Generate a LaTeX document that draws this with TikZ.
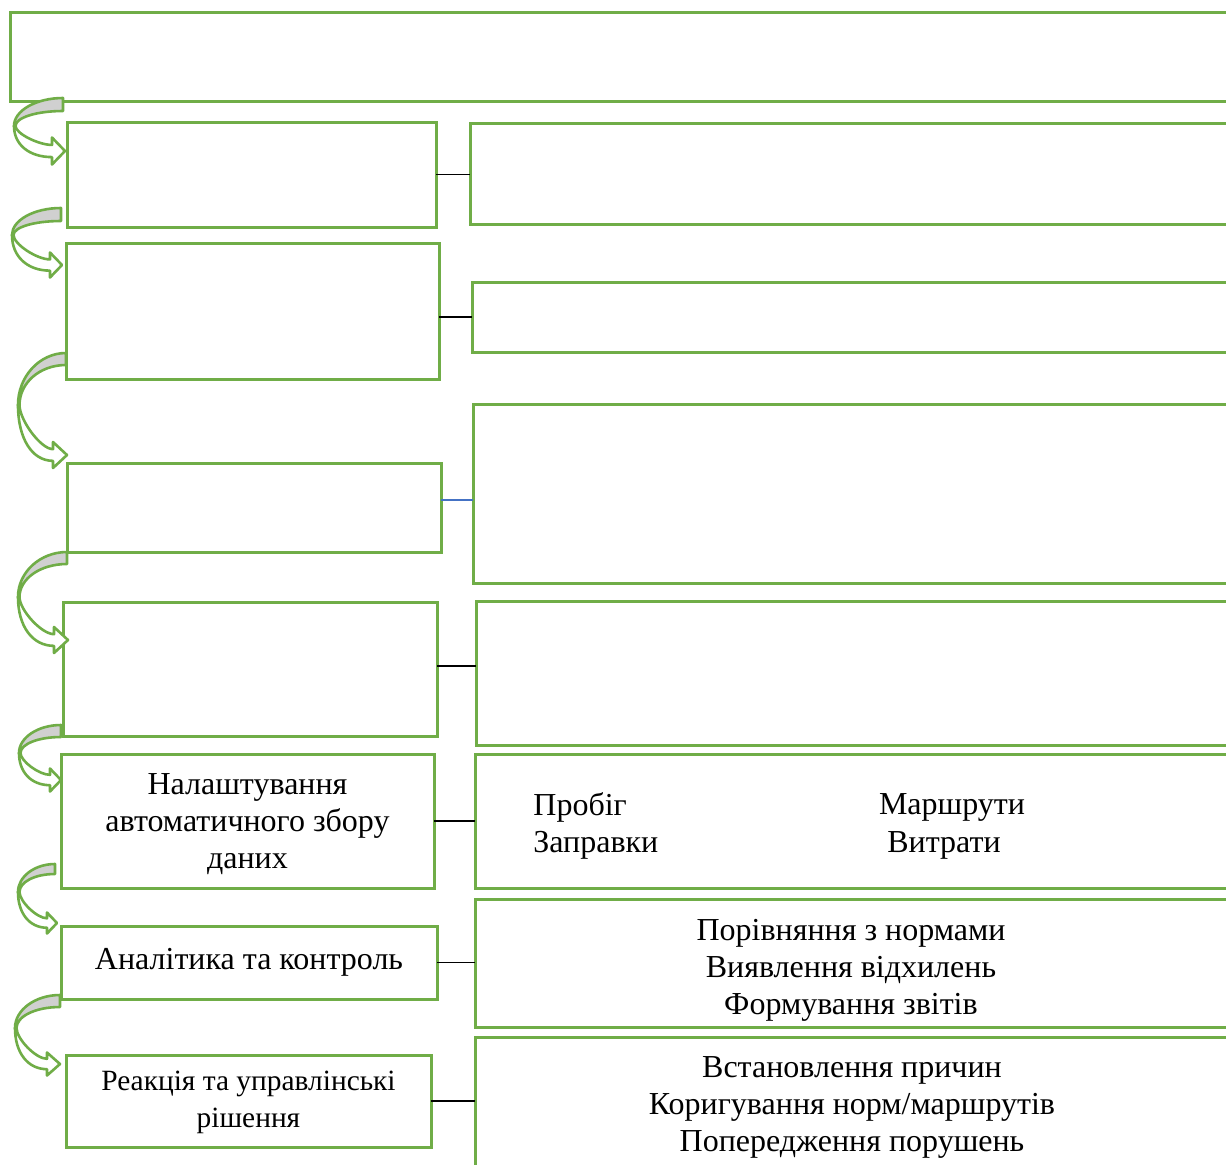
\documentclass[tikz,border=0pt]{standalone}
\usepackage{fontspec}
\setmainfont{Liberation Serif}
\definecolor{grn}{HTML}{70AD47}
\definecolor{cblue}{HTML}{4472C4}
\definecolor{gryfill}{HTML}{D0D0D0}
\tikzset{
 box/.style={draw=grn, line width=1.5pt, fill=white, inner sep=0pt, outer sep=0pt, anchor=north west, align=center, font=\fontsize{16}{18.5}\selectfont},
 txt/.style={inner sep=0pt, align=center, font=\fontsize{16}{18.5}\selectfont},
 conn/.style={draw=black, line width=0.6pt},
 arrowline/.style={draw=grn, line width=1.3pt, line join=round},
}
\newcommand\bx[6]{\node[box, minimum width={(#4-#2)*0.5pt}, minimum height={(#5-#3)*0.5pt}] (#1) at (#2,#3) {#6};}
\newcommand\carrow[9]{%
 \filldraw[arrowline, fill=gryfill] (#1,#2) .. controls ({#1-0.55*(#1-#4)},#2) and (#4,{#5-0.55*(#5-#2)}) .. (#4,#5) -- ({#4+1.5},#5) .. controls ({#4+1.5},{#5-0.55*(#5-#2-#3)}) and ({#1-0.55*(#1-#4)},{#2+#3}) .. (#1,{#2+#3}) -- cycle;
 \filldraw[arrowline, fill=white] (#4,#5) .. controls (#4,{#5+0.6*(#7+0.45*#9-#5)}) and ({#6-0.6*(#6-#4)},{#7+0.45*#9}) .. (#6,{#7+0.45*#9}) -- (#6,{#7+#9}) -- (#8,#7) -- (#6,{#7-#9}) -- (#6,{#7-0.45*#9}) .. controls ({#6-0.35*(#6-#4)},{#7-0.45*#9}) and ({#4+1.5},{#5+0.3*(#7-#5)}) .. ({#4+1.5},#5) -- cycle;
}
\begin{document}
\begin{tikzpicture}[x=0.5pt,y=-0.5pt]
\clip (0,0) rectangle (1226,1164);
\fill[white] (0,0) rectangle (1226,1164);
% top box
\bx{T}{10}{12}{1240}{101}{}
% left boxes
\bx{L1}{67}{122}{436}{227}{}
\bx{L2}{66}{243}{439}{379}{}
\bx{L3}{67}{463}{441}{552}{}
\bx{L4}{63}{602}{437}{736}{}
\bx{L5}{61}{754}{434}{888}{}
\bx{L6}{61}{926}{437}{999}{}
\bx{L7}{66}{1055}{431}{1147}{}
\node[txt] (t5) at ([yshift=-1.5pt]L5.center) {Налаштування\\автоматичного збору\\даних};
\node[txt] (t6) at ([yshift=0pt]L6.center) {Аналітика та контроль};
\node[txt, font=\fontsize{14.7}{18.5}\selectfont] (t7) at ([yshift=-0.5pt]L7.center) {Реакція та управлінські\\рішення};
% right boxes
\bx{R1}{470}{123}{1240}{224}{}
\bx{R2}{472}{282}{1240}{352}{}
\bx{R3}{473}{404}{1240}{583}{}
\bx{R4}{476}{601}{1240}{745}{}
\bx{R5}{475}{754}{1240}{888}{}
\bx{R6}{475}{899}{1240}{1027}{}
\bx{R7}{475}{1037}{1240}{1175}{}
% texts in right boxes
\node[txt, anchor=west] (p1) at (533,807) {Пробіг};
\node[txt, anchor=west] (p2) at (533,845) {Заправки};
\node[txt] (p3) at (952,807) {Маршрути};
\node[txt] (p4) at (944,845) {Витрати};
\node[txt] (p5) at (851,970) {Порівняння з нормами\\Виявлення відхилень\\Формування звітів};
\node[txt] (p6) at (852,1107) {Встановлення причин\\Коригування норм/маршрутів\\Попередження порушень};
% connectors
\draw[conn] (L1.east) -- (L1.east -| R1.west);
\draw[conn] (L2.east |- R2.west) -- (R2.west);
\draw[conn, draw=cblue] (L3.east |- 0,500) -- (R3.west |- 0,500);
\draw[conn] (L4.east |- 0,666) -- (R4.west |- 0,666);
\draw[conn] (L5.east) -- (L5.east -| R5.west);
\draw[conn] (L6.east) -- (L6.east -| R6.west);
\draw[conn] (L7.east) -- (L7.east -| R7.west);
% curved arrows
\carrow{63}{98}{13}{14}{126}{52}{151}{65}{13.5}
\carrow{61}{208}{13}{12}{235}{50}{265}{62}{12.5}
\carrow{66}{353}{12}{18}{405}{53}{455}{67}{13}
\carrow{67}{552}{12}{18}{597}{54}{640}{68}{13}
\carrow{61}{725}{12}{19}{753}{50}{780}{61}{11.5}
\carrow{55}{864}{10}{18}{892}{47}{923}{57}{10.5}
\carrow{60}{995}{12}{15}{1028}{47}{1064}{60}{11.5}
\end{tikzpicture}
\end{document}
